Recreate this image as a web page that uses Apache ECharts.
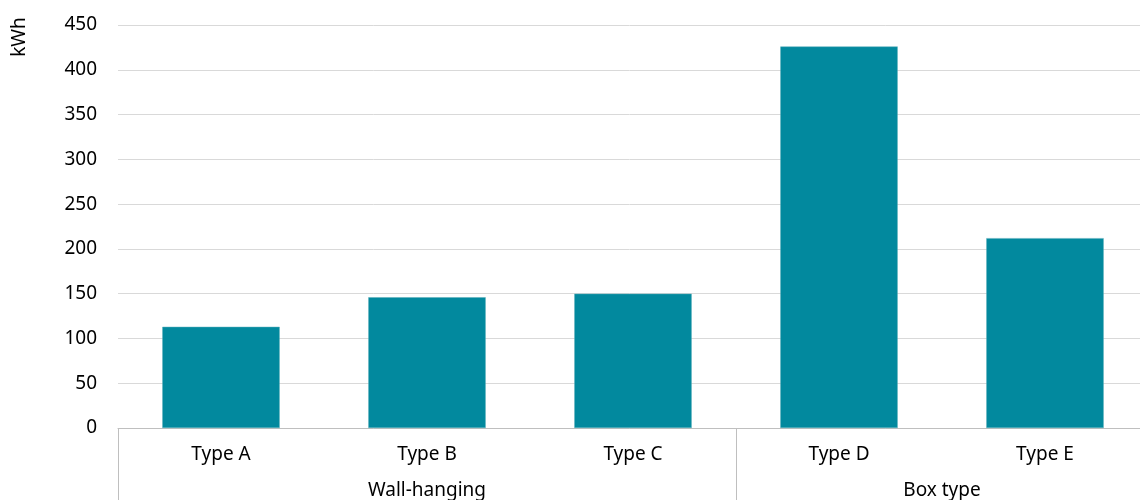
<!DOCTYPE html>
<html>
<head>
<meta charset="utf-8">
<script src="https://cdn.jsdelivr.net/npm/echarts@6/dist/echarts.min.js"></script>
<style>
  html, body { margin: 0; padding: 0; background: #fff; }
  #chart { width: 1140px; height: 500px; }
</style>
</head>
<body>
<div id="chart"></div>
<script>
// Energy use per unit type (kWh)
const categories = ['Type A', 'Type B', 'Type C', 'Type D', 'Type E'];
const values = [113, 146, 150, 426, 212];
// Group labels and their spans over the category indices
const groupNames = ['Wall-hanging', 'Box type'];
const groupStarts = [0, 3];
const groupEnds = [3, 5];
const yTicks = [0, 50, 100, 150, 200, 250, 300, 350, 400, 450];

const FONT = 'Noto Sans';
const chart = echarts.init(document.getElementById('chart'));

const groupCenters = groupNames.map((_, i) => (groupStarts[i] + groupEnds[i]) / 2);
const dividers = Array.from(new Set(groupStarts.concat(groupEnds)));

chart.setOption({
  animation: false,
  textStyle: { fontFamily: FONT },
  // plot area runs slightly past the right edge of the canvas
  grid: {
    left: 118, width: 1030, top: 25, bottom: 72,
    containLabel: false, outerBoundsMode: 'none'
  },
  xAxis: [
    {
      type: 'category',
      data: categories,
      axisLine: { show: true, lineStyle: { color: '#bfbfbf', width: 1 } },
      axisTick: { show: false },
      axisLabel: { color: '#000', fontSize: 19, margin: 17, fontFamily: FONT }
    },
    {
      type: 'value',
      position: 'bottom',
      min: 0,
      max: categories.length,
      axisLine: { show: false },
      splitLine: { show: false },
      axisTick: {
        show: true,
        length: 72,
        customValues: dividers,
        lineStyle: { color: '#bfbfbf', width: 1 }
      },
      axisLabel: {
        show: true,
        customValues: groupCenters,
        margin: 53,
        color: '#000',
        fontSize: 19,
        fontFamily: FONT,
        formatter: function (v) {
          const i = groupCenters.indexOf(v);
          return i >= 0 ? groupNames[i] : '';
        }
      }
    }
  ],
  yAxis: {
    type: 'value',
    min: yTicks[0],
    max: yTicks[yTicks.length - 1],
    interval: yTicks[1] - yTicks[0],
    axisLine: { show: false },
    axisTick: { show: false },
    axisLabel: { color: '#000', fontSize: 19, margin: 21, fontFamily: FONT },
    splitLine: { lineStyle: { color: '#d9d9d9', width: 1 } }
  },
  graphic: [
    {
      type: 'text',
      x: 20,
      y: 37,
      rotation: Math.PI / 2,
      style: {
        text: 'kWh',
        fill: '#000',
        font: '19px "' + FONT + '"',
        align: 'center',
        verticalAlign: 'middle'
      }
    }
  ],
  series: [
    {
      type: 'bar',
      xAxisIndex: 0,
      data: values,
      barWidth: '57%',
      itemStyle: { color: '#02899e', borderColor: '#5aaebb', borderWidth: 0.5 }
    }
  ]
});
</script>
</body>
</html>
